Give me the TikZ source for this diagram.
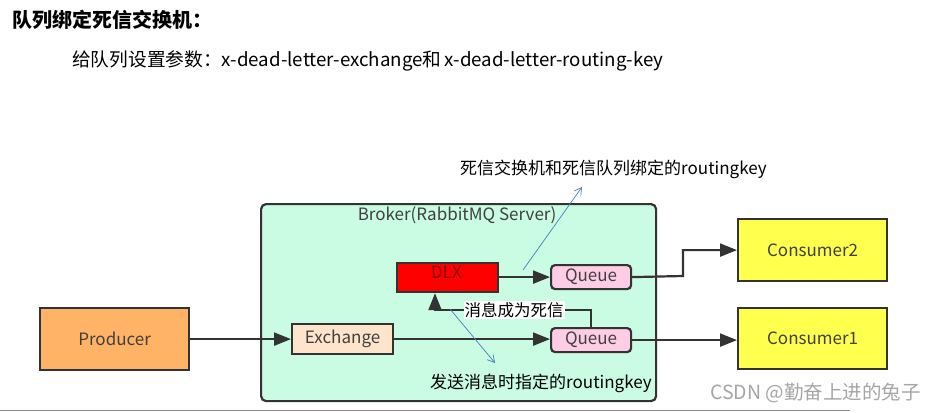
\documentclass[tikz,border=0pt]{standalone}
\usepackage{fontspec}
\setmainfont{Noto Sans CJK SC}
\usetikzlibrary{arrows.meta}
\definecolor{brokerfill}{HTML}{C9FCE3}
\definecolor{linecol}{HTML}{333333}
\definecolor{dlxred}{HTML}{FF0000}
\definecolor{queuepink}{HTML}{FFCCE6}
\definecolor{exchpeach}{HTML}{FFE4CC}
\definecolor{prodorange}{HTML}{FFB366}
\definecolor{consyellow}{HTML}{FFFF4D}
\definecolor{bluearrow}{HTML}{4A7EBB}
\definecolor{textcol}{HTML}{404040}
\tikzset{
  box/.style={draw=linecol, line width=2.2pt, inner sep=0pt, anchor=north west, text=textcol},
  arr/.style={draw=linecol, line width=2.2pt, -{Triangle[length=17pt,width=13pt]}},
  thinarr/.style={draw=bluearrow, line width=0.7pt, -{Straight Barb[length=7pt,width=8pt]}},
  lbl/.style={inner sep=0pt, font=\fontsize{17}{20}\selectfont, text=black},
}
\begin{document}
\begin{tikzpicture}[x=1pt,y=-1pt]
\useasboundingbox (0,0) rectangle (936,412);
\fill[white] (0,0) rectangle (936,412);
% titles
\node[anchor=west, inner sep=0pt, font=\fontsize{20}{24}\selectfont\bfseries] (title) at (12,20) {队列绑定死信交换机：};
\node[anchor=west, inner sep=0pt, font=\fontsize{18.7}{22}\selectfont] (sub) at (72,61) {给队列设置参数：x-dead-letter-exchange和\,x-dead-letter-routing-key};
% broker
\node[box, fill=brokerfill, rounded corners=5pt, minimum width=395pt, minimum height=197pt] (broker) at (260,203) {};
\node[inner sep=0pt, font=\fontsize{17}{20}\selectfont, text=textcol] (brokerlbl) at (457,215) {Broker(RabbitMQ Server)};
% nodes
\node[box, fill=prodorange, minimum width=149pt, minimum height=62pt, font=\fontsize{17}{20}\selectfont] (prod) at (39,307) {Producer};
\node[box, fill=exchpeach, minimum width=101pt, minimum height=30pt, font=\fontsize{17}{20}\selectfont] (exch) at (291,323) {Exchange};
\node[box, fill=dlxred, minimum width=101pt, minimum height=29pt] (dlx) at (396,262) {};
\node[inner sep=0pt, font=\fontsize{17}{20}\selectfont, text=red!55!black] (dlxlbl) at (446.5,272) {DLX};
\node[box, fill=queuepink, rounded corners=4pt, minimum width=80pt, minimum height=24pt, font=\fontsize{17}{20}\selectfont] (q2) at (550,264) {Queue};
\node[box, fill=queuepink, rounded corners=4pt, minimum width=80pt, minimum height=24pt, font=\fontsize{17}{20}\selectfont] (q1) at (550,327) {Queue};
\node[box, fill=consyellow, minimum width=149pt, minimum height=62pt, font=\fontsize{17}{20}\selectfont] (c2) at (737,218) {Consumer2};
\node[box, fill=consyellow, minimum width=149pt, minimum height=61pt, font=\fontsize{17}{20}\selectfont] (c1) at (737,307) {Consumer1};
% connectors
\draw[arr] (prod.east) -- (exch.west);
\draw[arr] (exch.east) -- (exch.east -| q1.west);
\draw[arr] (dlx.east |- q2.west) -- (q2.west);
\coordinate (bend) at (683,276);
\draw[arr] (q2.east) -- (bend) |- (c2.west);
\draw[arr] (q1.east) -- (q1.east -| c1.west);
\coordinate (dl) at (435,310);
\draw[arr] (q1.north) |- (dl) -- (dlx.south -| dl);
\node[lbl, fill=white, inner xsep=1pt, inner ysep=1pt, font=\fontsize{16.5}{20}\selectfont] (deadlbl) at (514,310) {消息成为死信};
% blue annotations
\coordinate (b1s) at (523,270);
\coordinate (b1e) at (582,187);
\draw[thinarr] (b1s) -- (b1e);
\node[lbl, anchor=west] (toplbl) at (460,169) {死信交换机和死信队列绑定的routingkey};
\coordinate (b2s) at (450,309);
\coordinate (b2e) at (495,363);
\draw[thinarr] (b2s) -- (b2e);
\node[lbl, anchor=west] (botlbl) at (430,383) {发送消息时指定的routingkey};
% watermark
\node[anchor=west, inner sep=0pt, font=\fontsize{19.5}{22}\selectfont, text=black!35] (wm) at (710,393) {CSDN @勤奋上进的兔子};
\draw[black!45, line width=1pt] (0,410) -- (850,410);
\end{tikzpicture}
\end{document}
